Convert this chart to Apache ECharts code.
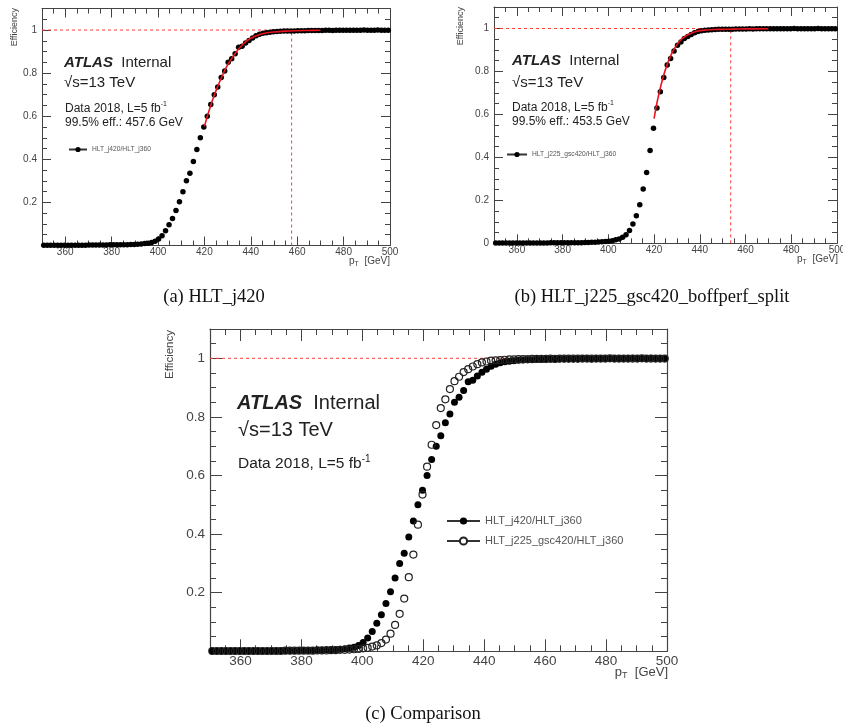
<!DOCTYPE html>
<html><head><meta charset="utf-8">
<script src="https://cdn.jsdelivr.net/npm/echarts@6/dist/echarts.min.js"></script>
<style>html,body{margin:0;padding:0;background:#fff}#c{width:843px;height:726px}</style>
</head><body><div id="c"></div>
<script>
// ---------- data ----------
const binCenters = [350.75,352.25,353.75,355.25,356.75,358.25,359.75,361.25,362.75,364.25,
  365.75,367.25,368.75,370.25,371.75,373.25,374.75,376.25,377.75,379.25,
  380.75,382.25,383.75,385.25,386.75,388.25,389.75,391.25,392.75,394.25,
  395.75,397.25,398.75,400.25,401.75,403.25,404.75,406.25,407.75,409.25,
  410.75,412.25,413.75,415.25,416.75,418.25,419.75,421.25,422.75,424.25,
  425.75,427.25,428.75,430.25,431.75,433.25,434.75,436.25,437.75,439.25,
  440.75,442.25,443.75,445.25,446.75,448.25,449.75,451.25,452.75,454.25,
  455.75,457.25,458.75,460.25,461.75,463.25,464.75,466.25,467.75,469.25,
  470.75,472.25,473.75,475.25,476.75,478.25,479.75,481.25,482.75,484.25,
  485.75,487.25,488.75,490.25,491.75,493.25,494.75,496.25,497.75,499.25];
const effJ420 = [0.001,0.001,0.001,0.001,0.001,0.001,0.001,0.001,0.001,0.001,
  0.001,0.001,0.001,0.002,0.002,0.002,0.002,0.002,0.002,0.003,
  0.003,0.003,0.003,0.004,0.004,0.005,0.005,0.006,0.007,0.009,
  0.011,0.014,0.020,0.030,0.045,0.068,0.096,0.125,0.163,0.203,
  0.250,0.300,0.335,0.390,0.445,0.500,0.550,0.600,0.655,0.700,
  0.736,0.780,0.810,0.850,0.867,0.890,0.920,0.925,0.940,0.952,
  0.963,0.973,0.980,0.985,0.988,0.990,0.992,0.993,0.994,0.995,
  0.995,0.996,0.996,0.997,0.997,0.997,0.998,0.998,0.998,0.998,
  0.998,0.999,0.999,0.998,0.999,0.999,0.999,0.999,0.999,0.999,
  0.999,0.999,1.000,0.999,0.999,0.999,1.000,0.999,0.999,0.999];
const effGsc420 = [0.001,0.001,0.001,0.001,0.001,0.001,0.001,0.001,0.001,0.001,
  0.001,0.001,0.001,0.001,0.001,0.001,0.002,0.002,0.002,0.002,
  0.002,0.002,0.002,0.003,0.003,0.003,0.004,0.004,0.005,0.005,
  0.006,0.007,0.008,0.010,0.012,0.016,0.020,0.028,0.040,0.060,
  0.090,0.128,0.180,0.253,0.330,0.432,0.535,0.630,0.705,0.772,
  0.830,0.860,0.895,0.922,0.937,0.953,0.963,0.972,0.980,0.986,
  0.989,0.992,0.993,0.994,0.995,0.996,0.996,0.997,0.997,0.997,
  0.998,0.998,0.998,0.998,0.999,0.998,0.999,0.999,0.999,0.999,
  0.999,0.999,0.999,0.999,0.999,0.999,0.999,1.000,0.999,0.999,
  0.999,0.999,0.999,0.999,1.000,0.999,0.999,0.999,0.999,0.999];
const fitAx = [420,422,424,426,428,430,432,434,436,438,440,443,446,450,455,460,465,470];
const fitAy = [0.553,0.625,0.690,0.745,0.795,0.838,0.872,0.902,0.927,0.947,0.962,0.976,0.985,0.991,0.995,0.997,0.998,0.999];
const fitBx = [420,421,422,424,426,428,430,432,434,436,438,440,443,446,450,455,460,470];
const fitBy = [0.580,0.640,0.690,0.775,0.840,0.890,0.925,0.950,0.966,0.977,0.985,0.990,0.993,0.995,0.996,0.997,0.998,0.999];
const plateauX = [350,500];
const plateauEff = 1;
const thresholdA = 457.6;   // 99.5% eff. HLT_j420
const thresholdB = 453.5;   // 99.5% eff. HLT_j225_gsc420
const xMajorTicks = [360,380,400,420,440,460,480,500];
const xMinorTicks = [355,360,365,370,375,380,385,390,395,400,405,410,415,420,425,430,435,440,445,450,455,460,465,470,475,480,485,490,495];
const yMajorTicks = [0,0.2,0.4,0.6,0.8,1];
const yMinorTicks = [0.05,0.1,0.15,0.2,0.25,0.3,0.35,0.4,0.45,0.5,0.55,0.6,0.65,0.7,0.75,0.8,0.85,0.9,0.95,1,1.05];
const yLabelsAC = [0.2,0.4,0.6,0.8,1];
const yLabelsB = [0,0.2,0.4,0.6,0.8,1];
const nameJ420 = 'HLT_j420/HLT_j360';
const nameGsc = 'HLT_j225_gsc420/HLT_j360';

// ---------- chart ----------
const FF = '"Liberation Sans", Arial, sans-serif';
const SERIF = '"Liberation Serif", "DejaVu Serif", serif';
const AX = '#444';
const grids = [
  {left:42, top:8.5, width:348, height:237, outerBoundsMode:'none', containLabel:false},
  {left:494, top:7, width:343, height:236.3, outerBoundsMode:'none', containLabel:false},
  {left:210, top:329, width:457, height:322.3, outerBoundsMode:'none', containLabel:false}
];
const axCfg = [
  {maj:9, min:5, fs:10, xm:2, ym:5, lw:1, yl:yLabelsAC},
  {maj:9, min:5, fs:10, xm:2, ym:5, lw:1, yl:yLabelsB},
  {maj:12, min:6, fs:13.5, xm:3, ym:5, lw:1.2, yl:yLabelsAC}
];
const xAxes = [], yAxes = [];
axCfg.forEach((c, g) => {
  const line = {show:true, onZero:false, lineStyle:{color:AX, width:c.lw}};
  const noLine = {show:false, onZero:false};
  const tk = (vals, len) => ({show:true, inside:true, length:len, customValues:vals, lineStyle:{color:AX, width:1}});
  const base = {gridIndex:g, type:'value', min:350, max:500, splitLine:{show:false}};
  xAxes.push(Object.assign({}, base, {position:'bottom', axisLine:line, axisTick:tk(xMajorTicks, c.maj),
    axisLabel:{show:true, customValues:xMajorTicks, fontSize:c.fs, color:AX, margin:c.xm, fontFamily:FF}}));
  xAxes.push(Object.assign({}, base, {position:'bottom', axisLine:noLine, axisTick:tk(xMinorTicks, c.min), axisLabel:{show:false}}));
  xAxes.push(Object.assign({}, base, {position:'top', axisLine:line, axisTick:tk(xMajorTicks, c.maj), axisLabel:{show:false}}));
  xAxes.push(Object.assign({}, base, {position:'top', axisLine:noLine, axisTick:tk(xMinorTicks, c.min), axisLabel:{show:false}}));
  const ybase = {gridIndex:g, type:'value', min:0, max:1.1, splitLine:{show:false}};
  yAxes.push(Object.assign({}, ybase, {position:'left', axisLine:line, axisTick:tk(yMajorTicks, c.maj),
    axisLabel:{show:true, customValues:c.yl, fontSize:c.fs, color:AX, margin:c.ym, fontFamily:FF,
      formatter: v => String(+(+v).toFixed(2))}}));
  yAxes.push(Object.assign({}, ybase, {position:'left', axisLine:noLine, axisTick:tk(yMinorTicks, c.min), axisLabel:{show:false}}));
  yAxes.push(Object.assign({}, ybase, {position:'right', axisLine:line, axisTick:tk(yMajorTicks, c.maj), axisLabel:{show:false}}));
  yAxes.push(Object.assign({}, ybase, {position:'right', axisLine:noLine, axisTick:tk(yMinorTicks, c.min), axisLabel:{show:false}}));
});

const pairs = (xs, ys) => xs.map((x, i) => [x, ys[i]]);
const dashStyle = {color:'#ff3b3b', width:1, type:[3,3]};
const dashLine = (g, data) => ({type:'line', xAxisIndex:4*g, yAxisIndex:4*g, data, symbol:'none', silent:true, lineStyle:dashStyle, z:1});
const filled = (g, name, ys, size) => ({type:'scatter', name, xAxisIndex:4*g, yAxisIndex:4*g, data:pairs(binCenters, ys),
  symbol:'circle', symbolSize:size, itemStyle:{color:'#000', opacity:1, borderWidth:0}, z:3});
const openS = (g, name, ys, size) => ({type:'scatter', name, xAxisIndex:4*g, yAxisIndex:4*g, data:pairs(binCenters, ys),
  symbol:'circle', symbolSize:size, itemStyle:{color:'rgba(255,255,255,0)', borderColor:'#222', borderWidth:1.2, opacity:1}, z:4});
const fit = (g, xs, ys) => ({type:'line', xAxisIndex:4*g, yAxisIndex:4*g, data:pairs(xs, ys), symbol:'none', smooth:0.4,
  lineStyle:{color:'#e8141e', width:1.6}, z:5, silent:true});
const legSeries = (g, id, open, size) => ({type:'line', name:id, xAxisIndex:4*g, yAxisIndex:4*g, data:[], symbol:'circle', symbolSize:size,
  itemStyle: open ? {color:'#fff', borderColor:'#222', borderWidth:1.2, opacity:1} : {color:'#000', opacity:1}, lineStyle:{color:'#333', width:1}});

const series = [
  dashLine(0, pairs(plateauX, [plateauEff, plateauEff])),
  dashLine(0, [[thresholdA, 0], [thresholdA, plateauEff]]),
  filled(0, 'a_data', effJ420, 5.5),
  fit(0, fitAx, fitAy),
  dashLine(1, pairs(plateauX, [plateauEff, plateauEff])),
  dashLine(1, [[thresholdB, 0], [thresholdB, plateauEff]]),
  filled(1, 'b_data', effGsc420, 5.5),
  fit(1, fitBx, fitBy),
  dashLine(2, pairs(plateauX, [plateauEff, plateauEff])),
  filled(2, 'c_data1', effJ420, 7),
  openS(2, 'c_data2', effGsc420, 7),
  legSeries(0, 'legA', false, 5),
  legSeries(1, 'legB', false, 5),
  legSeries(2, 'legC1', false, 7),
  legSeries(2, 'legC2', true, 7)
];
const legendLabel = {legA:nameJ420, legB:nameGsc, legC1:nameJ420, legC2:nameGsc};
const mkLegend = (data, left, top, w, h, fs, lh, gap) => ({data, left, top, orient:'vertical', selectedMode:false,
  itemWidth:w, itemHeight:h, itemGap:gap, padding:0, formatter: n => legendLabel[n],
  textStyle:{fontSize:fs, lineHeight:lh, color:'#555', fontFamily:FF}});

const txt = (text, left, top, fs, lh, extra) => Object.assign({left, top, padding:0, text,
  textStyle:{fontFamily:FF, fontSize:fs, lineHeight:lh, fontWeight:'normal', color:'#222',
    rich:{
      b:{fontFamily:FF, fontSize:fs, lineHeight:lh, fontWeight:'bold', fontStyle:'italic', color:'#222'},
      n:{fontFamily:FF, fontSize:fs, lineHeight:lh, color:'#222'},
      sup:{fontFamily:FF, fontSize:Math.round(fs*0.62), lineHeight:Math.round(fs*0.62), verticalAlign:'top', color:'#222'},
      sub:{fontFamily:FF, fontSize:Math.round(fs*0.7), lineHeight:Math.round(fs*0.7), verticalAlign:'bottom', color:'#444'}
    }}}, extra || {});

const titles = [
  txt('{b|ATLAS}  {n|Internal}', 64, 53.5, 15, 18),
  txt('√s=13 TeV', 64, 74, 15, 18),
  txt('Data 2018, L=5 fb{sup|-1}', 65, 100.5, 12, 16),
  txt('99.5% eff.: ' + thresholdA + ' GeV', 65, 115, 12, 16),
  txt('{b|ATLAS}  {n|Internal}', 512, 52, 15, 18),
  txt('√s=13 TeV', 512, 73.5, 15, 18),
  txt('Data 2018, L=5 fb{sup|-1}', 512, 99.5, 12, 16),
  txt('99.5% eff.: ' + thresholdB + ' GeV', 512, 114, 12, 16),
  txt('{b|ATLAS}  {n|Internal}', 237, 391, 20, 24),
  txt('√s=13 TeV', 238, 418.5, 20, 24),
  txt('Data 2018, L=5 fb{sup|-1}', 238, 454, 15.5, 20),
  Object.assign(txt('p{sub|T}  [GeV]', 0, 255, 10, 13), {left:null, right:453}),
  Object.assign(txt('p{sub|T}  [GeV]', 0, 253, 10, 13), {left:null, right:5}),
  Object.assign(txt('p{sub|T}  [GeV]', 0, 664, 13, 16), {left:null, right:175})
];
titles.slice(-3).forEach(t => { t.textStyle.color = '#444'; t.textStyle.rich.n.color = '#444'; });

const vText = (x, y, fs, text) => ({type:'text', x, y, rotation:Math.PI/2,
  style:{text, font: fs + 'px ' + FF, fill:'#444', align:'right', verticalAlign:'middle'}});
const cap = (x, y, text) => ({type:'text', x, y, style:{text, font:'18.5px ' + SERIF, fill:'#111', align:'center', verticalAlign:'middle'}});

const option = {
  animation:false,
  backgroundColor:'#fff',
  grid: grids,
  xAxis: xAxes,
  yAxis: yAxes,
  series,
  title: titles,
  legend: [
    mkLegend(['legA'], 68, 145.5, 18, 6.5, 6.7, 8, 2),
    mkLegend(['legB'], 506, 150.5, 20, 6.5, 6.7, 8, 2),
    mkLegend(['legC1','legC2'], 446, 514, 33, 9, 11, 14, 6)
  ],
  graphic: [
    vText(15, 8, 9, 'Efficiency'),
    vText(461, 7, 9, 'Efficiency'),
    vText(170, 330, 11.5, 'Efficiency'),
    cap(214, 297, '(a) HLT_j420'),
    cap(652, 297, '(b) HLT_j225_gsc420_boffperf_split'),
    cap(423, 714, '(c) Comparison')
  ]
};
const chart = echarts.init(document.getElementById('c'), null, {renderer:'canvas'});
chart.setOption(option);
</script>
</body></html>
